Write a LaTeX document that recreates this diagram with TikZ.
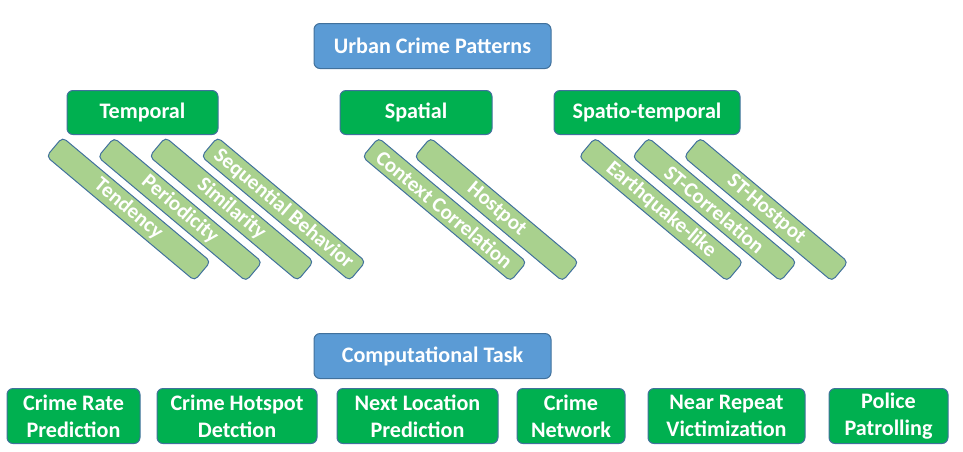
\documentclass[tikz,border=0pt]{standalone}
\usepackage{fontspec}
\setmainfont{Carlito}
\definecolor{dgreen}{HTML}{00B050}
\definecolor{lgreen}{HTML}{A9D18E}
\definecolor{cblue}{HTML}{5B9BD5}
\definecolor{bord}{HTML}{41719C}
\begin{document}
\begin{tikzpicture}[x=0.75pt,y=-0.75pt,
  base/.style={draw=bord, line width=0.75pt, rounded corners=4.5pt, text=white,
     font=\fontsize{16.6}{20.2}\selectfont\bfseries, align=center, inner sep=0pt},
  bluebox/.style={base, fill=cblue, minimum width=177.75pt, minimum height=33.75pt},
  catbox/.style={base, fill=dgreen, minimum height=33pt},
  taskbox/.style={base, fill=dgreen, minimum height=41.25pt},
  bar/.style={base, fill=lgreen, rounded corners=3.5pt, minimum width=145pt, minimum height=18.75pt, rotate=-40,
     font=\fontsize{15.8}{18}\selectfont\bfseries}]
\useasboundingbox (0,0) rectangle (963,451);
% top level
\node[bluebox] (ucp) at (432.5,46) {Urban Crime Patterns};
\node[catbox, minimum width=113.25pt] (temp) at (142.5,112.5) {Temporal};
\node[catbox, minimum width=114pt] (spat) at (416,112.5) {Spatial};
\node[catbox, minimum width=139.5pt] (st) at (647,112.5) {Spatio-temporal};
% bars
\node[bar] (b1) at (128.5,209) {Tendency};
\node[bar] (b2) at (180,209.5) {Periodicity};
\node[bar] (b3) at (231.5,209) {Similarity};
\node[bar] (b4) at (283.5,209) {Sequential Behavior};
\node[bar] (b5) at (444.5,209.5) {Context Correlation};
\node[bar] (b6) at (496.5,209.5) {Hostpot};
\node[bar] (b7) at (661,209.5) {Earthquake-like};
\node[bar] (b8) at (714.5,209.5) {ST-Correlation};
\node[bar] (b9) at (766,209.5) {ST-Hostpot};
% computational tasks
\node[bluebox] (ct) at (432.5,356) {Computational Task};
\node[taskbox, minimum width=99.75pt] (t1) at (73.5,416) {Crime Rate\\Prediction};
\node[taskbox, minimum width=120pt] (t2) at (237,416) {Crime Hotspot\\Detction};
\node[taskbox, minimum width=120.75pt] (t3) at (417.5,416) {Next Location\\Prediction};
\node[taskbox, minimum width=81pt] (t4) at (571,416) {Crime\\Network};
\node[taskbox, minimum width=117.75pt] (t5) at (726.5,416) {Near Repeat\\Victimization};
\node[taskbox, minimum width=89.25pt] (t6) at (888.5,416) {Police\\Patrolling};
\end{tikzpicture}
\end{document}
